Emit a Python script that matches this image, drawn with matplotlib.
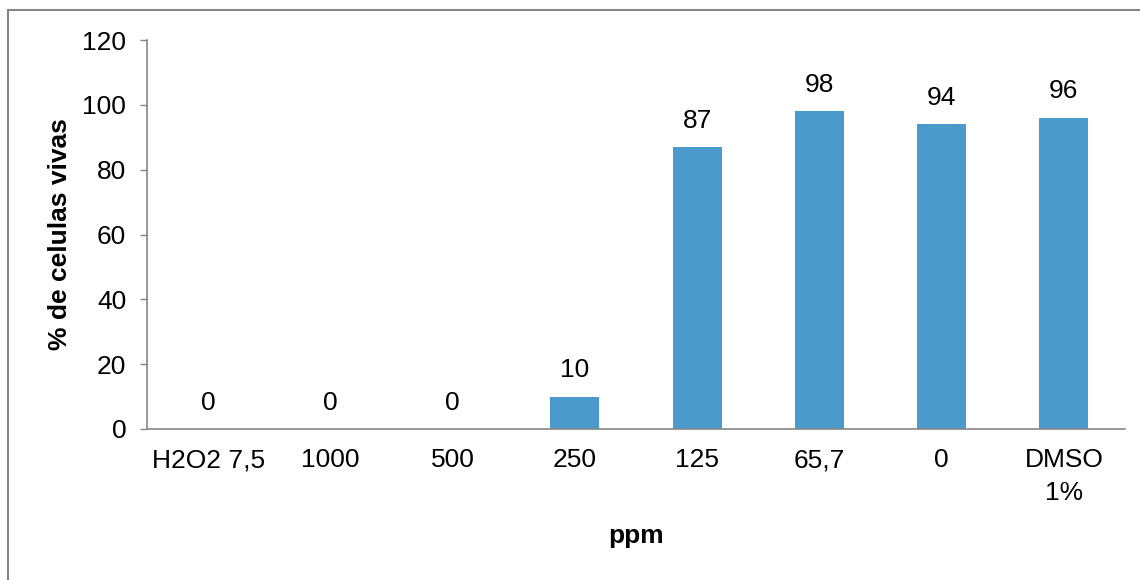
import matplotlib
matplotlib.use("Agg")
import matplotlib.pyplot as plt
from matplotlib.lines import Line2D

# data
categories = ['H2O2 7,5', '1000', '500', '250', '125', '65,7', '0', 'DMSO\n1%']
values = [0, 0, 0, 10, 87, 98, 94, 96]
yticks = [0, 20, 40, 60, 80, 100, 120]

plt.rcParams['font.family'] = ['Liberation Sans', 'DejaVu Sans']
fs = 19
axis_grey = '#868686'

fig = plt.figure(figsize=(11.4, 5.8), dpi=100)
ax = fig.add_axes([147/1140, 151/580, (1125-147)/1140, (429-40)/580])

x = list(range(len(categories)))
ax.bar(x, values, width=0.4, color='#4A9ACB')

for xi, v in zip(x, values):
    ax.annotate(str(v), (xi, v), xytext=(0, 19), textcoords='offset points',
                ha='center', va='center', fontsize=fs)

ax.set_xlim(-0.5, len(categories) - 0.5)
ax.set_ylim(0, 120)
ax.set_yticks(yticks)
ax.set_xticks(x)
ax.set_xticklabels(categories, fontsize=fs, linespacing=1.45)
ax.tick_params(axis='y', labelsize=fs, length=5, width=1, color=axis_grey, pad=10)
ax.tick_params(axis='x', length=0, pad=14)

for s in ['top', 'right']:
    ax.spines[s].set_visible(False)
for s in ['left', 'bottom']:
    ax.spines[s].set_color(axis_grey)
    ax.spines[s].set_linewidth(1.2)

ax.set_xlabel('ppm', fontsize=fs, fontweight='bold', labelpad=14)
ax.set_ylabel('% de celulas vivas', fontsize=fs, fontweight='bold', labelpad=7)

# outer chart border (cut at right/bottom like the reference)
fig.add_artist(Line2D([8/1140, 8/1140], [0, 1 - 10/580], transform=fig.transFigure,
                      color=axis_grey, lw=1.5))
fig.add_artist(Line2D([8/1140, 1], [1 - 10/580, 1 - 10/580], transform=fig.transFigure,
                      color=axis_grey, lw=1.5))

fig.savefig('out.png', dpi=100)
